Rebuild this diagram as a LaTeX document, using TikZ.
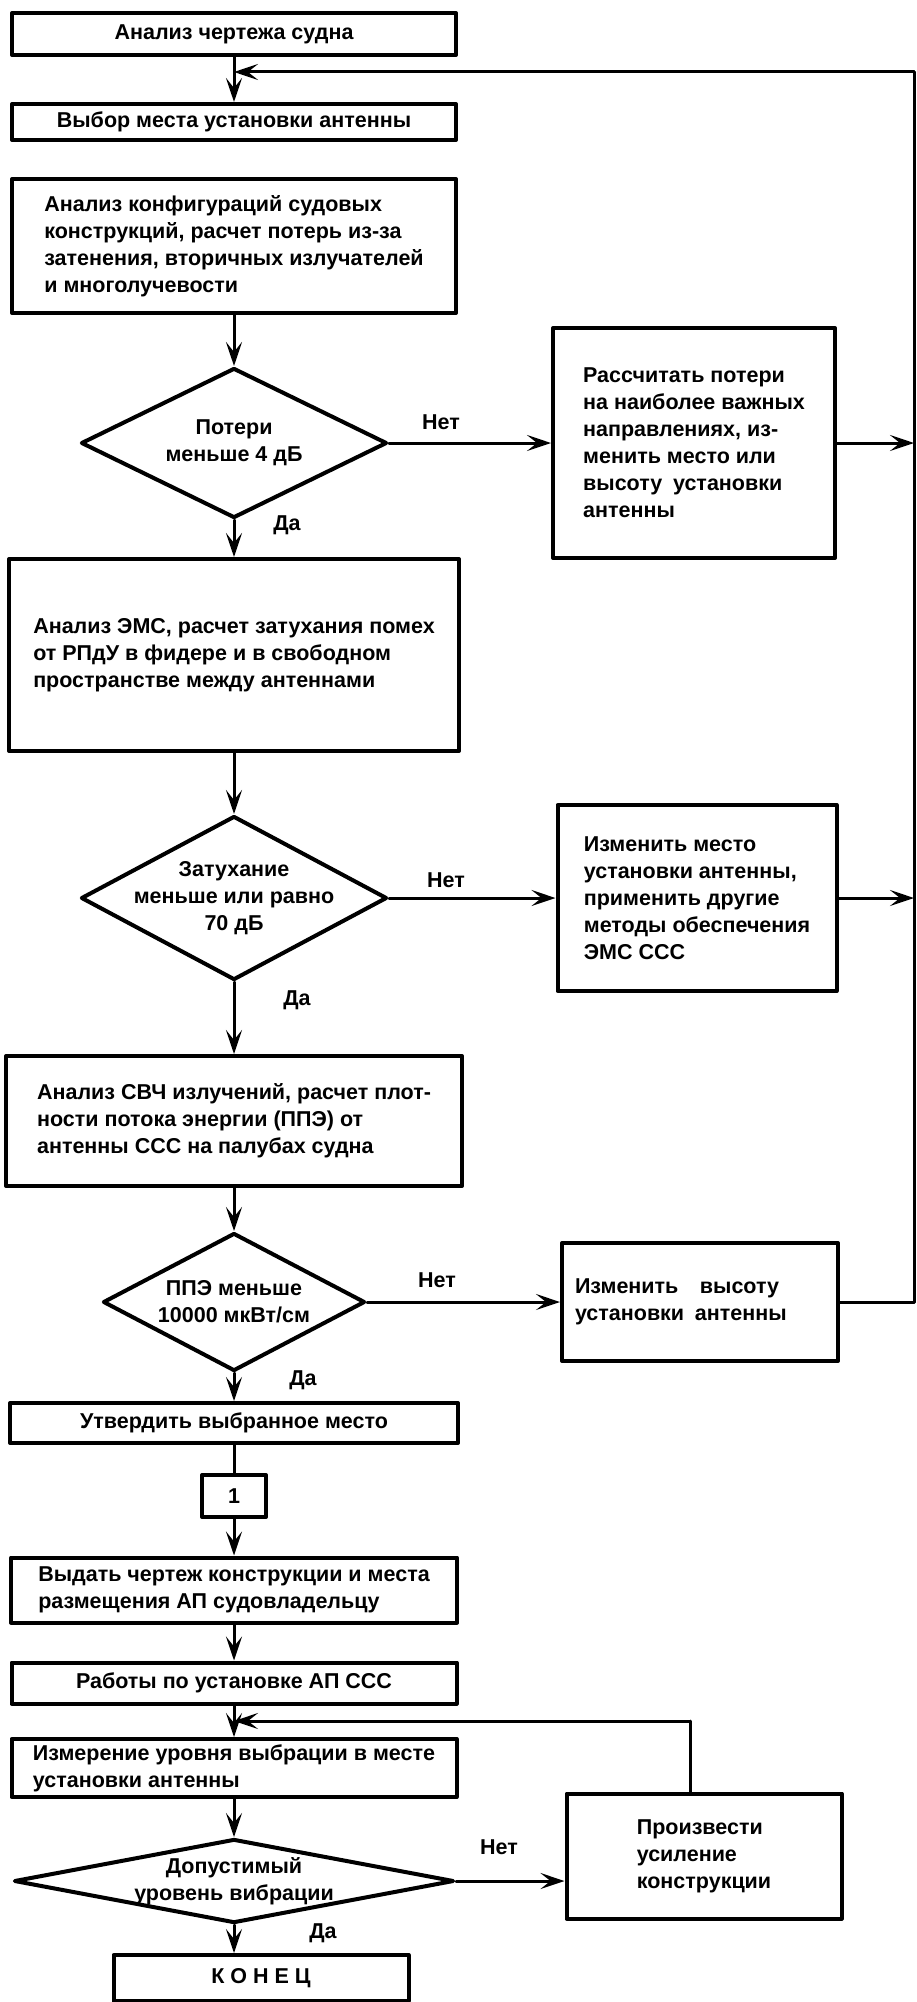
\documentclass[tikz,border=0pt]{standalone}
\usepackage{fontspec}
\setmainfont{Liberation Sans}
\usetikzlibrary{shapes.geometric,arrows.meta}
\begin{document}
\begin{tikzpicture}[x=1pt,y=-1pt,>={Stealth[length=24pt,width=16pt,inset=10pt]},
	font=\bfseries\fontsize{21.5}{27}\selectfont, line join=round, line cap=round,
	blok/.style={draw,line width=4pt,align=center,inner sep=0pt},
	romb/.style={draw,diamond,line width=4pt,align=center,inner sep=0pt},
	strel/.style={line width=3pt}]
		\def\xm{234} \def\xr{914} % ось и правая линия
		\useasboundingbox (0,0) rectangle (917,2002);
		% левая колонка
		\node[blok,minimum width=444pt,minimum height=42pt] (b1) at (\xm,34) {Анализ чертежа судна};
		\node[blok,minimum width=444pt,minimum height=36pt] (b2) at (\xm,122) {Выбор места установки антенны};
		\node[blok,minimum width=444pt,minimum height=134pt,align=left] (b3) at (\xm,246) {Анализ конфигураций судовых\\конструкций, расчет потерь из-за\\затенения, вторичных излучателей\\и многолучевости};
		\node[romb,aspect=2.04,minimum width=306pt,minimum height=150pt] (d1) at (\xm,443) {Потери\\меньше 4 дБ};
		\node[blok,minimum width=450pt,minimum height=192pt,align=left] (b5) at (\xm,655) {Анализ ЭМС, расчет затухания помех\\от РПдУ в фидере и в свободном\\пространстве между антеннами};
		\node[romb,aspect=1.87,minimum width=306pt,minimum height=164pt,inner xsep=-24pt] (d2) at (\xm,898) {Затухание\\меньше или равно\\70 дБ};
		\node[blok,minimum width=456pt,minimum height=130pt,align=left] (b7) at (\xm,1121) {Анализ СВЧ излучений, расчет плот-\\ности потока энергии (ППЭ) от\\антенны ССС на палубах судна};
		\node[romb,aspect=1.9,minimum width=262pt,minimum height=138pt,inner xsep=-4pt] (d3) at (\xm,1302) {ППЭ меньше\\10000 мкВт/см};
		\node[blok,minimum width=448pt,minimum height=40pt] (b9) at (\xm,1423) {Утвердить выбранное место};
		\node[blok,minimum width=64pt,minimum height=42pt] (b10) at (\xm,1496) {1};
		\node[blok,minimum width=446pt,minimum height=65pt,align=left] (b11) at (\xm,1590) {Выдать чертеж конструкции и места\\размещения АП судовладельцу};
		\node[blok,minimum width=445pt,minimum height=41pt] (b12) at (\xm,1683) {Работы по установке АП ССС};
		\node[blok,minimum width=445pt,minimum height=58pt,align=left] (b13) at (\xm,1768) {Измерение уровня выбрации в месте\\установки антенны};
		\node[romb,aspect=5.24,minimum width=440pt,minimum height=84pt,inner xsep=-12pt,inner ysep=-3pt] (d4) at (\xm,1881) {Допустимый\\уровень вибрации};
		\node[blok,minimum width=295pt,minimum height=46pt] (b15) at (261,1978) {К\hspace{6pt}О\hspace{6pt}Н\hspace{6pt}Е\hspace{6pt}Ц};
		% правая колонка
		\node[blok,minimum width=282pt,minimum height=230pt,align=left] (b4) at (694,443) {Рассчитать потери\\на наиболее важных\\направлениях, из-\\менить место или\\высоту\enspace установки\\антенны};
		\node[blok,minimum width=279pt,minimum height=186pt,align=left] (b6) at (697,898) {Изменить место\\установки антенны,\\применить другие\\методы обеспечения\\ЭМС ССС};
		\node[blok,minimum width=276pt,minimum height=118pt,text width=250pt,inner xsep=13pt,align=left] (b8) at (700,1302) {Изменить\quad высоту\\установки\enspace антенны};
		\node[blok,minimum width=275pt,minimum height=125pt,align=left] (b14) at (704,1856) {Произвести\\усиление\\конструкции};
		% подписи
		\node (n1) at (441,422) {Нет};
		\node (n2) at (446,880) {Нет};
		\node (n3) at (437,1280) {Нет};
		\node (n4) at (499,1847) {Нет};
		\node (y1) at (287,525) {Да};
		\node (y2) at (297,1000) {Да};
		\node (y3) at (303,1380) {Да};
		\node (y4) at (323,1933) {Да};
		% стрелки
		\draw[strel,->] (b1) -- (b2);
		\draw[strel,->] (b3) -- (d1);
		\draw[strel,->] (d1) -- (b5);
		\draw[strel,->] (b5) -- (d2);
		\draw[strel,->] (d2) -- (b7);
		\draw[strel,->] (b7) -- (d3);
		\draw[strel,->] (d3) -- (b9);
		\draw[strel] (b9) -- (b10);
		\draw[strel,->] (b10) -- (b11);
		\draw[strel,->] (b11) -- (b12);
		\draw[strel,->] (b12) -- (b13);
		\draw[strel,->] (b13) -- (d4);
		\draw[strel,->] (d4.south) -- (d4.south |- b15.north);
		\draw[strel,->] (d1) -- (b4);
		\draw[strel,->] (d2) -- (b6);
		\draw[strel,->] (d3) -- (b8);
		\draw[strel,->] (d4.east) -- (d4.east -| b14.west);
		\coordinate (rv) at (\xr,72);
		\draw[strel,->] (b4.east) -- (b4.east -| rv);
		\draw[strel,->] (b6.east) -- (b6.east -| rv);
		\draw[strel] (b8.east) -- (b8.east -| rv) -- (rv);
		\draw[strel,->] (rv) -- (rv -| b1.south);
		\coordinate (pv) at (690,1721);
		\draw[strel] (pv |- b14.north) -- (pv);
		\draw[strel,->] (pv) -- (pv -| b13.north);
\end{tikzpicture}
\end{document}
